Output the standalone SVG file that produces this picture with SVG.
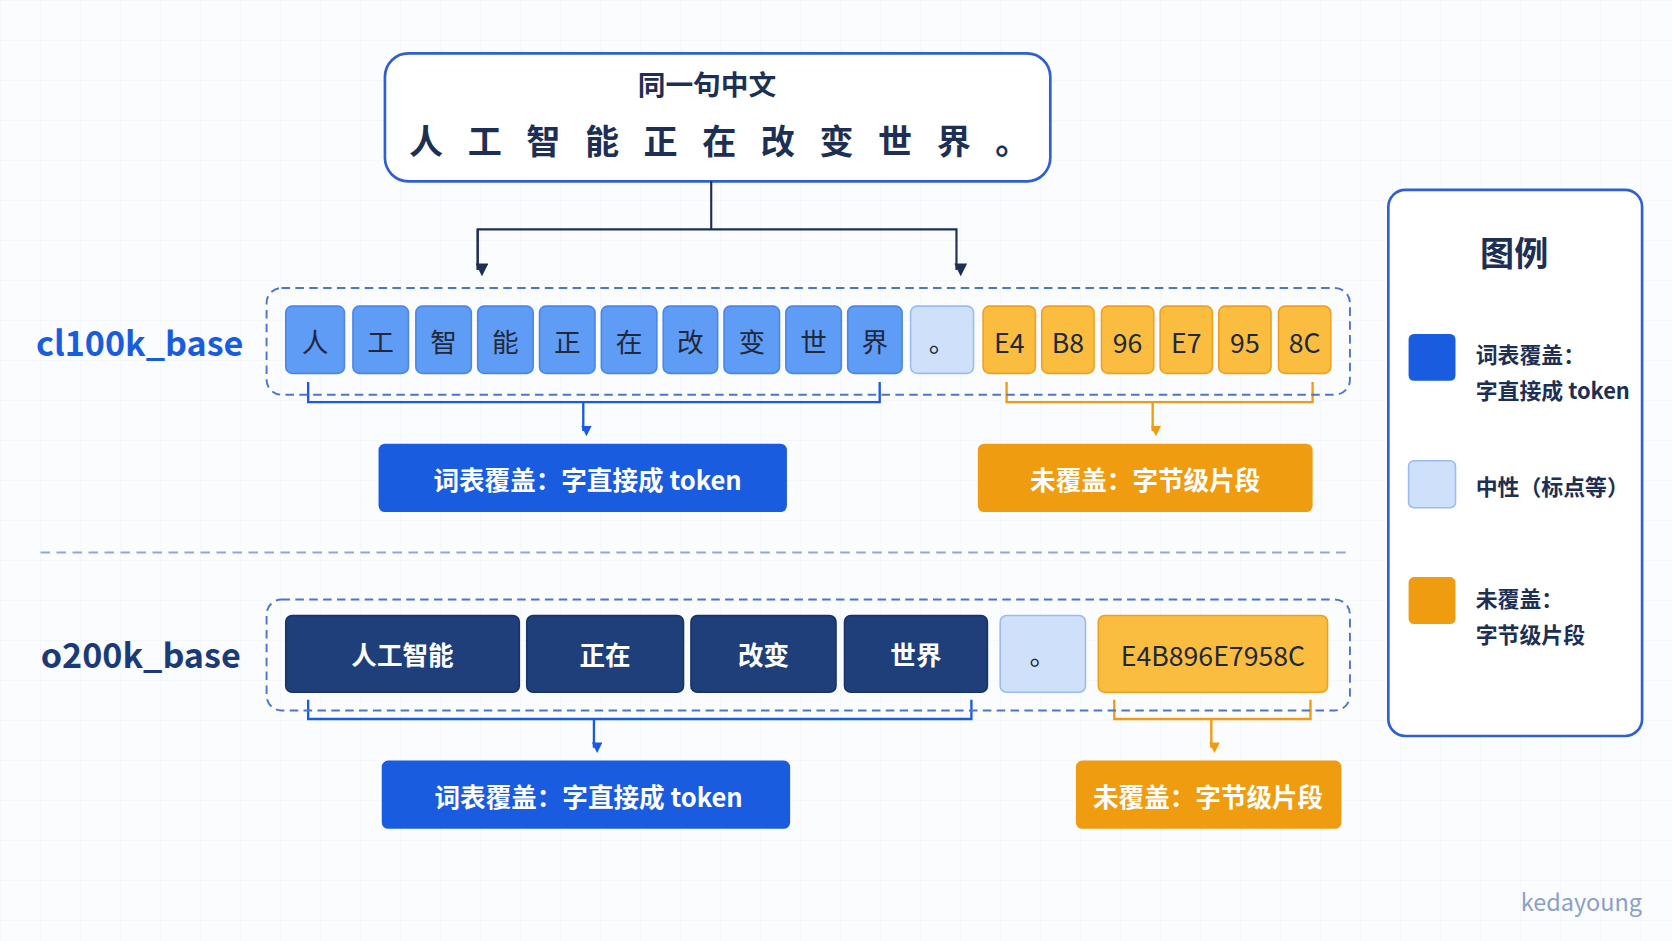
<svg xmlns="http://www.w3.org/2000/svg" width="1672" height="941" viewBox="0 0 1672 941">
<defs>
<pattern id="grid" width="40" height="40" patternUnits="userSpaceOnUse"><path d="M40 0H0V40" fill="none" stroke="#eef2f8" stroke-width="1"/></pattern>
<marker id="ab" markerWidth="10" markerHeight="10" refX="5" refY="8" orient="auto" markerUnits="userSpaceOnUse" viewBox="0 0 10 10"><path d="M0,0 L10,0 L5,10z" transform="rotate(-90 5 5)" fill="#1a5ce0"/></marker>
<marker id="ao" markerWidth="10" markerHeight="10" refX="5" refY="8" orient="auto" markerUnits="userSpaceOnUse" viewBox="0 0 10 10"><path d="M0,0 L10,0 L5,10z" transform="rotate(-90 5 5)" fill="#f09c10"/></marker>
<marker id="ak" markerWidth="12" markerHeight="12" refX="6" refY="10" orient="auto" markerUnits="userSpaceOnUse" viewBox="0 0 12 12"><path d="M0,0 L12,0 L6,12z" transform="rotate(-90 6 6)" fill="#1e2f55"/></marker>
</defs>
<style>
text{font-family:"Noto Sans CJK SC","Liberation Sans",sans-serif;text-anchor:middle;dominant-baseline:central}
.b{font-weight:700}
.tb{fill:#5f9cf5;stroke:#4a86e8;stroke-width:1.5}
.tl{fill:#cfe0fb;stroke:#9bbcf0;stroke-width:1.5}
.to{fill:#fbbd40;stroke:#f0a020;stroke-width:1.5}
.tn{fill:#1e3f7a;stroke:#18336a;stroke-width:1.5}
.tt{font-size:25px;fill:#20283a}
.tw{font-size:24px;fill:#fff;font-weight:700}
.cont{fill:none;stroke:#4f74cc;stroke-width:1.8;stroke-dasharray:8 5}
.bb{fill:none;stroke:#1a5ce0;stroke-width:2.2}
.bo{fill:none;stroke:#f09c10;stroke-width:2.2}
.lg{font-size:20.5px;fill:#1e2f55;font-weight:700;text-anchor:start}
</style>
<rect width="1672" height="941" fill="#fbfcfe"/>
<rect width="1672" height="941" fill="url(#grid)"/>
<g transform="scale(1.0663 1.0667)">
<g id="source">
<rect x="361" y="50" width="624" height="120" rx="22" fill="#fff" stroke="#2f5fd0" stroke-width="2.5"/>
<text x="663" y="78" font-size="26" fill="#1e2f55" class="b">同一句中文</text>
<text x="686" y="130" font-size="32" fill="#1e2f55" class="b" letter-spacing="23">人工智能正在改变世界。</text>
</g>
<g id="connectors">
<path d="M667 170V215H448V253M667 215H897V253" fill="none" stroke="#1e2f55" stroke-width="2" marker-end="url(#ak)"/>
<path d="M448 215V253" fill="none" stroke="#1e2f55" stroke-width="2" marker-end="url(#ak)"/>
<path d="M289 358V377H825V358M547 377V404" class="bb" marker-end="url(#ab)"/>
<path d="M944 358V377H1231V358M1081 377V404" class="bo" marker-end="url(#ao)"/>
<path d="M289 656V674H911V656M557 674V701" class="bb" marker-end="url(#ab)"/>
<path d="M1045 656V674H1229V656M1136 674V701" class="bo" marker-end="url(#ao)"/>
<path d="M38 518H1262" stroke="#8fa8dc" stroke-width="2" stroke-dasharray="9 6"/>
</g>
<g id="cl100k">
<text x="131" y="320" font-size="32" fill="#1a5ce0" class="b">cl100k_base</text>
<rect x="250" y="270" width="1016" height="100" rx="14" class="cont"/>
<rect class="tb" x="268" y="287" width="55" height="63" rx="6"/><text class="tt" x="295.5" y="319">人</text>
<rect class="tb" x="331" y="287" width="52" height="63" rx="6"/><text class="tt" x="357" y="319">工</text>
<rect class="tb" x="390" y="287" width="52" height="63" rx="6"/><text class="tt" x="416" y="319">智</text>
<rect class="tb" x="448" y="287" width="52" height="63" rx="6"/><text class="tt" x="474" y="319">能</text>
<rect class="tb" x="506" y="287" width="52" height="63" rx="6"/><text class="tt" x="532" y="319">正</text>
<rect class="tb" x="564" y="287" width="52" height="63" rx="6"/><text class="tt" x="590" y="319">在</text>
<rect class="tb" x="622" y="287" width="51" height="63" rx="6"/><text class="tt" x="647.5" y="319">改</text>
<rect class="tb" x="679" y="287" width="52" height="63" rx="6"/><text class="tt" x="705" y="319">变</text>
<rect class="tb" x="737" y="287" width="52" height="63" rx="6"/><text class="tt" x="763" y="319">世</text>
<rect class="tb" x="795" y="287" width="51" height="63" rx="6"/><text class="tt" x="820.5" y="319">界</text>
<rect class="tl" x="854" y="287" width="59" height="63" rx="6"/><text class="tt" x="883.5" y="319">。</text>
<rect class="to" x="922" y="287" width="49" height="63" rx="6"/><text class="tt" x="946.5" y="320">E4</text>
<rect class="to" x="977" y="287" width="49" height="63" rx="6"/><text class="tt" x="1001.5" y="320">B8</text>
<rect class="to" x="1033" y="287" width="49" height="63" rx="6"/><text class="tt" x="1057.5" y="320">96</text>
<rect class="to" x="1088" y="287" width="49" height="63" rx="6"/><text class="tt" x="1112.5" y="320">E7</text>
<rect class="to" x="1143" y="287" width="49" height="63" rx="6"/><text class="tt" x="1167.5" y="320">95</text>
<rect class="to" x="1199" y="287" width="49" height="63" rx="6"/><text class="tt" x="1223.5" y="320">8C</text>
</g>
<g id="cl100k-covered"><rect x="355" y="416" width="383" height="64" rx="6" fill="#1a5ce0"/><text class="tw" x="551" y="449">词表覆盖：字直接成 token</text></g>
<g id="cl100k-uncovered"><rect x="917" y="416" width="314" height="64" rx="6" fill="#f09c10"/><text class="tw" x="1074" y="449">未覆盖：字节级片段</text></g>
<g id="o200k">
<text x="132" y="612" font-size="32" fill="#1b3a78" class="b">o200k_base</text>
<rect x="250" y="562" width="1016" height="104" rx="14" class="cont"/>
<rect class="tn" x="268" y="577" width="219" height="72" rx="6"/><text class="tw" x="377.5" y="613">人工智能</text>
<rect class="tn" x="494" y="577" width="147" height="72" rx="6"/><text class="tw" x="567.5" y="613">正在</text>
<rect class="tn" x="648" y="577" width="136" height="72" rx="6"/><text class="tw" x="716" y="613">改变</text>
<rect class="tn" x="792" y="577" width="134" height="72" rx="6"/><text class="tw" x="859" y="613">世界</text>
<rect class="tl" x="938" y="577" width="80" height="72" rx="6"/><text class="tt" x="978" y="613">。</text>
<rect class="to" x="1030" y="577" width="215" height="72" rx="6"/><text class="tt" x="1137.5" y="614" font-size="24">E4B896E7958C</text>
</g>
<g id="o200k-covered"><rect x="358" y="713" width="383" height="64" rx="6" fill="#1a5ce0"/><text class="tw" x="552" y="746">词表覆盖：字直接成 token</text></g>
<g id="o200k-uncovered"><rect x="1009" y="713" width="249" height="64" rx="6" fill="#f09c10"/><text class="tw" x="1133" y="746">未覆盖：字节级片段</text></g>
<g id="legend">
<rect x="1302" y="178" width="238" height="512" rx="16" fill="#fff" stroke="#2f5fd0" stroke-width="2.5"/>
<text x="1420" y="235" font-size="32" fill="#1e2f55" class="b">图例</text>
<rect x="1321" y="313" width="44" height="44" rx="5" fill="#1a5ce0"/>
<text class="lg" x="1384" y="331">词表覆盖：</text><text class="lg" x="1384" y="365">字直接成 token</text>
<rect x="1321" y="432" width="44" height="44" rx="5" class="tl"/>
<text class="lg" x="1384" y="455">中性（标点等）</text>
<rect x="1321" y="541" width="44" height="44" rx="5" fill="#f09c10"/>
<text class="lg" x="1384" y="560">未覆盖：</text><text class="lg" x="1384" y="594">字节级片段</text>
</g>
<text x="1540" y="845" font-size="22" fill="#8aa0c8" style="text-anchor:end">kedayoung</text>
</g>
</svg>
